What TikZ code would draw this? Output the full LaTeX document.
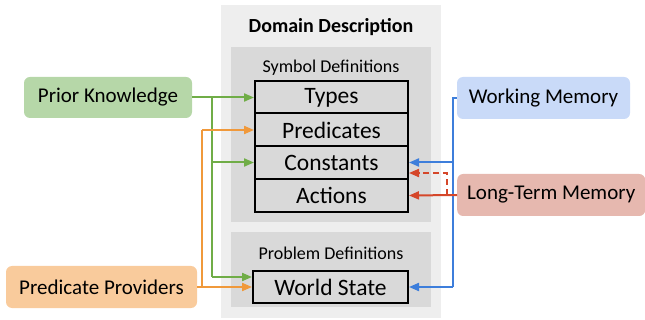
\documentclass[tikz,border=0pt]{standalone}
\usepackage{fontspec}
\setmainfont{Carlito}
\usetikzlibrary{arrows.meta}
\definecolor{outerbg}{HTML}{EEEEEE}
\definecolor{innerbg}{HTML}{D9D9D9}
\definecolor{pkfill}{HTML}{B6D7A8}
\definecolor{ppfill}{HTML}{F9CB9C}
\definecolor{wmfill}{HTML}{C9DAF8}
\definecolor{ltfill}{HTML}{E6B8AF}
\definecolor{cgreen}{HTML}{70AD47}
\definecolor{corange}{HTML}{F0993B}
\definecolor{cblue}{HTML}{3D7EDB}
\definecolor{cred}{HTML}{D5472A}
\tikzset{
  src/.style={rounded corners=6pt, font=\fontsize{21}{24}\selectfont, inner sep=0pt},
  item/.style={draw=black, line width=2pt, fill=innerbg, minimum width=153pt, minimum height=33pt, font=\fontsize{23.5}{26}\selectfont, inner sep=0pt},
  conn/.style={line width=2pt, -{Triangle[length=10pt,width=8pt]}},
  wire/.style={line width=2pt},
}
\begin{document}
\begin{tikzpicture}[x=1pt,y=-1pt]
\useasboundingbox (0,0) rectangle (645,320);
% panels
\fill[outerbg] (221,5) rectangle (441,318);
\fill[innerbg] (231,47) rectangle (431,222);
\fill[innerbg] (231,232) rectangle (431,307);
\node[font=\bfseries\fontsize{20}{22}\selectfont] (title) at (331,27) {Domain Description};
\node[font=\fontsize{18}{20}\selectfont] (symdef) at (331,68) {Symbol Definitions};
\node[font=\fontsize{18}{20}\selectfont] (probdef) at (331,253) {Problem Definitions};
% items
\node[item] (types) at (331.5,97.5) {Types};
\node[item] (preds) at (331.5,130) {Predicates};
\node[item] (consts) at (331.5,162.5) {Constants};
\node[item] (acts) at (331.5,195.5) {Actions};
\node[item, minimum width=155pt, minimum height=32pt] (world) at (330.5,287) {World State};
% sources
\node[src, fill=pkfill, minimum width=168pt, minimum height=41pt] (pk) at (108,97.5) {Prior Knowledge};
\node[src, fill=ppfill, minimum width=191pt, minimum height=42pt] (pp) at (101.5,287) {Predicate Providers};
\node[src, fill=wmfill, minimum width=173pt, minimum height=42pt] (wm) at (543.5,98) {Working Memory};
\node[src, fill=ltfill, minimum width=188pt, minimum height=42pt, anchor=west] (lt) at (457,195) {Long-Term Memory};
% coordinates
\coordinate (gx) at (212,0);
\coordinate (ox) at (202,0);
\coordinate (bx) at (453,0);
\coordinate (rx) at (447,0);
% green
\draw[conn, cgreen] (pk.east) -- (types.west);
\draw[wire, cgreen] (gx |- pk.east) -- (gx |- 0,277);
\draw[conn, cgreen] (gx |- consts.west) -- (consts.west);
\draw[conn, cgreen] (gx |- 0,277) -- (world.west |- 0,277);
% orange
\draw[conn, corange] (pp.east) -- (world.west);
\draw[wire, corange] (ox |- pp.east) -- (ox |- preds.west);
\draw[conn, corange] (ox |- preds.west) -- (preds.west);
% blue
\draw[wire, cblue] (wm.west) -- (bx |- wm.west) -- (bx |- world.east);
\draw[conn, cblue] (bx |- consts.east) -- (consts.east);
\draw[conn, cblue] (bx |- world.east) -- (world.east);
% red
\draw[conn, cred] (lt.west) -- (acts.east);
\draw[conn, cred, dashed, dash pattern=on 6pt off 4pt] (rx |- lt.west) -- (rx |- 0,173) -- (acts.east |- 0,173);
\end{tikzpicture}
\end{document}
